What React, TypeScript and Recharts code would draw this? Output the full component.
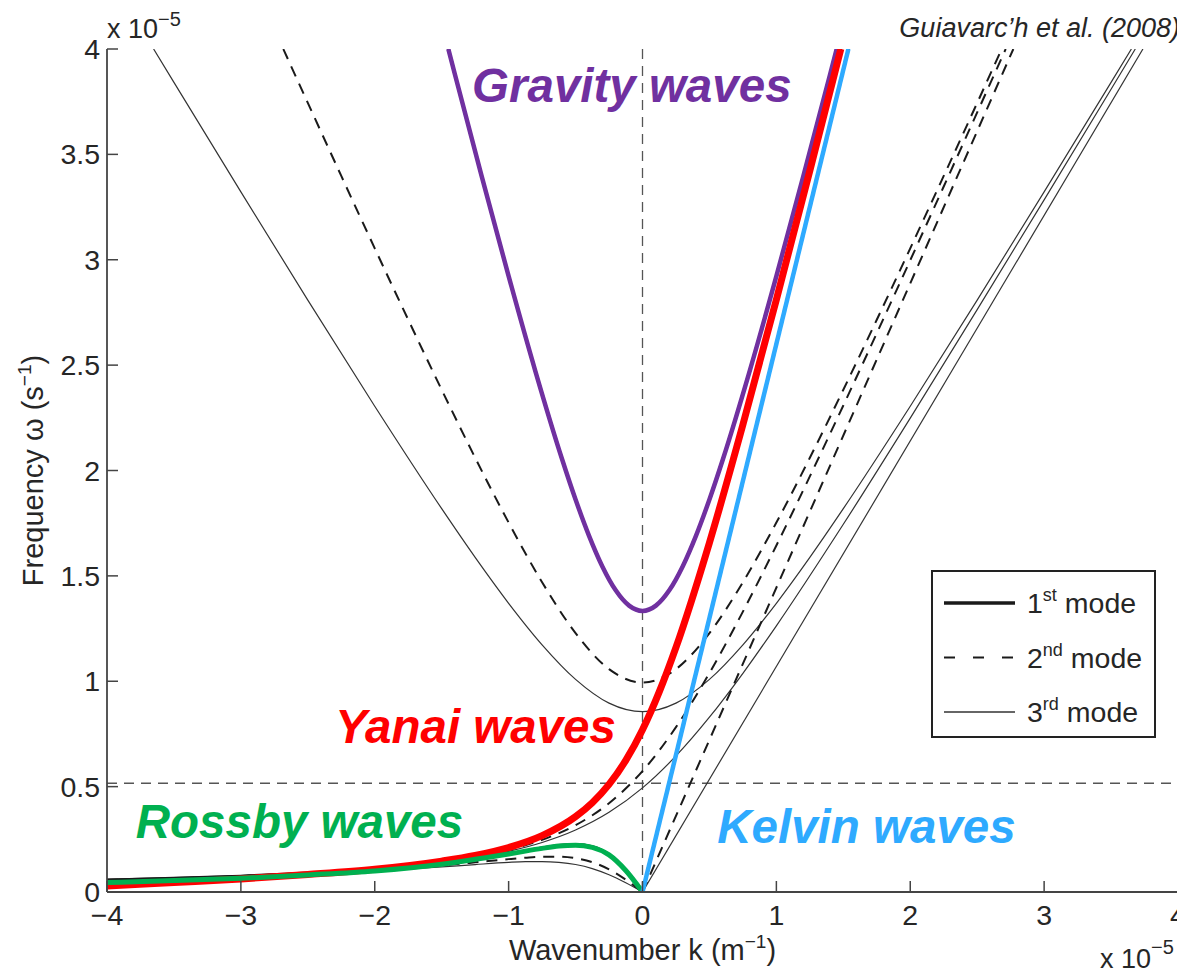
import React from 'react';
import { LineChart, Line, XAxis, YAxis, ReferenceLine, ReferenceDot, Legend } from 'recharts';

const FONT = '"Liberation Sans", Arial, Helvetica, sans-serif';
const INK = '#262626';

// ---- tick values ----
const xTicks = [-4, -3, -2, -1, 0, 1, 2, 3, 4];
const yTicks = [0, 0.5, 1, 1.5, 2, 2.5, 3, 3.5, 4];

// ---- reference lines ----
const refK = 0;
const refW = 0.516;

// ---- curves: [k (x1e-5 m^-1), omega (x1e-5 s^-1)] ----
// 1st mode
const kelvin1 = [[0, 0], [1.538, 4]];
const yanai1 = [[-4, 0.0567], [-3.5, 0.0647], [-3, 0.0753], [-2.5, 0.0899], [-2, 0.1116], [-1.5, 0.1465], [-1.25, 0.1732], [-1, 0.2109], [-0.75, 0.2673], [-0.5, 0.3576], [-0.375, 0.4238], [-0.25, 0.5107], [-0.125, 0.6244], [0, 0.7699], [0.125, 0.9494], [0.25, 1.1607], [0.5, 1.6576], [0.75, 2.2174], [1, 2.8109], [1.25, 3.4232], [1.4815, 4]];
const rossby1 = [[-4, 0.0561], [-3.5, 0.0638], [-3, 0.0738], [-2.5, 0.0875], [-2, 0.107], [-1.5, 0.1362], [-1.25, 0.1564], [-1, 0.1812], [-0.875, 0.195], [-0.75, 0.2088], [-0.625, 0.2204], [-0.5, 0.2255], [-0.375, 0.2155], [-0.25, 0.1776], [-0.125, 0.1028], [0, 0]];
const gravity1 = [[-1.4504, 4], [-1.4, 3.8766], [-1.2, 3.3931], [-1, 2.9221], [-0.8, 2.4708], [-0.6, 2.0523], [-0.5, 1.8624], [-0.4, 1.6912], [-0.3, 1.5449], [-0.2, 1.4314], [-0.1, 1.3587], [0, 1.3336], [0.1, 1.3587], [0.2, 1.4314], [0.3, 1.5449], [0.4, 1.6912], [0.5, 1.8624], [0.6, 2.0523], [0.8, 2.4708], [1, 2.9221], [1.2, 3.3931], [1.4, 3.8766], [1.4504, 4]];

// 2nd mode
const kelvin2 = [[0, 0], [2.77, 4]];
const yanai2 = [[-4, 0.0564], [-3.5, 0.0643], [-3, 0.0747], [-2.5, 0.089], [-2, 0.1098], [-1.5, 0.1426], [-1, 0.2002], [-0.75, 0.2475], [-0.5, 0.3169], [-0.25, 0.421], [0, 0.5738], [0.25, 0.782], [0.5, 1.0389], [0.75, 1.3305], [1, 1.6442], [1.25, 1.972], [1.5, 2.3086], [1.75, 2.6512], [2, 2.9978], [2.25, 3.3474], [2.5, 3.699], [2.713, 4]];
const rossby2 = [[-4, 0.0554], [-3.5, 0.0627], [-3, 0.0722], [-2.5, 0.0848], [-2, 0.102], [-1.5, 0.1259], [-1.25, 0.1406], [-1, 0.156], [-0.875, 0.1626], [-0.75, 0.1672], [-0.625, 0.1675], [-0.5, 0.1603], [-0.375, 0.1414], [-0.25, 0.1074], [-0.125, 0.0584], [0, 0]];
const gravity2 = [[-2.6832, 4], [-2.5, 3.7443], [-2.25, 3.3976], [-2, 3.0542], [-1.75, 2.7154], [-1.5, 2.3831], [-1.25, 2.0605], [-1, 1.753], [-0.75, 1.4699], [-0.5, 1.2284], [-0.25, 1.0574], [0, 0.9938], [0.25, 1.0574], [0.5, 1.2284], [0.75, 1.4699], [1, 1.753], [1.25, 2.0605], [1.5, 2.3831], [1.75, 2.7154], [2, 3.0542], [2.25, 3.3976], [2.5, 3.7443], [2.6832, 4]];

// 3rd mode
const kelvin3 = [[0, 0], [3.738, 4]];
const yanai3 = [[-4, 0.0563], [-3.5, 0.0641], [-3, 0.0743], [-2.5, 0.0883], [-2, 0.1085], [-1.5, 0.1398], [-1, 0.1931], [-0.75, 0.2351], [-0.5, 0.2942], [-0.25, 0.378], [0, 0.4939], [0.25, 0.6455], [0.5, 0.8292], [0.75, 1.0376], [1, 1.2631], [1.5, 1.7448], [2, 2.2485], [2.5, 2.7633], [3, 3.2843], [3.5, 3.8091], [3.681, 4]];
const rossby3 = [[-4, 0.0548], [-3.5, 0.0619], [-3, 0.071], [-2.5, 0.0827], [-2, 0.0985], [-1.5, 0.1189], [-1.25, 0.1303], [-1, 0.1406], [-0.875, 0.1439], [-0.75, 0.1445], [-0.625, 0.1407], [-0.5, 0.1304], [-0.375, 0.1112], [-0.25, 0.0819], [-0.125, 0.0436], [0, 0]];
const gravity3 = [[-3.6518, 4], [-3.5, 3.8415], [-3, 3.322], [-2.5, 2.8085], [-2, 2.3047], [-1.5, 1.8188], [-1.25, 1.5877], [-1, 1.37], [-0.75, 1.173], [-0.5, 1.009], [-0.25, 0.8963], [0, 0.8555], [0.25, 0.8963], [0.5, 1.009], [0.75, 1.173], [1, 1.37], [1.25, 1.5877], [1.5, 1.8188], [2, 2.3047], [2.5, 2.8085], [3, 3.322], [3.5, 3.8415], [3.6518, 4]];

// coloured highlight curves (1st mode)
const gravityHighlight = gravity1;
const yanaiHighlight = [[-4, 0.028], [-3.5, 0.045], [-3, 0.062], [-2.5, 0.083], [-2, 0.108], [-1.5, 0.1465], [-1.25, 0.1732], [-1, 0.2109], [-0.75, 0.2673], [-0.5, 0.3576], [-0.375, 0.4238], [-0.25, 0.5107], [-0.125, 0.6244], [0, 0.7699], [0.125, 0.9494], [0.25, 1.1607], [0.5, 1.6576], [0.75, 2.2174], [1, 2.8109], [1.25, 3.4232], [1.4815, 4]];
const rossbyHighlight = [[-4, 0.045], [-3.5, 0.054], [-3, 0.065], [-2.5, 0.081], [-2, 0.1], [-1.5, 0.132], [-1.25, 0.155], [-1, 0.18], [-0.875, 0.194], [-0.75, 0.207], [-0.625, 0.218], [-0.5, 0.222], [-0.375, 0.212], [-0.25, 0.176], [-0.125, 0.102], [0, 0]];
const kelvinHighlight = kelvin1;

// ---- annotations ----
const annotationTexts = ['Gravity waves', 'Yanai waves', 'Rossby waves', 'Kelvin waves'];
const annotationK = [-0.08, -1.247, -2.562, 1.673];
const annotationW = [3.75, 0.707, 0.256, 0.233];
const annotationColors = ['#7030A0', '#FF0000', '#00B050', '#2EAAFF'];

// ---- legend ----
const legendNums = ['1', '2', '3'];
const legendSups = ['st', 'nd', 'rd'];

const toPts = (arr: number[][]) => arr.map(([k, w]) => ({ k, w }));

const PLOT_H = 843;
const PLOT_W = 1071;
const CHART_W = 1177;
const CHART_H = 966;
const TOP = 41;
const Y_AXIS_W = 99;
const X_AXIS_H = CHART_H - TOP - PLOT_H;
const LABEL_FS = 29;
const TICK_FS = 28.5;

const modeStyle = [
  { stroke: '#1a1a1a', width: 3, dash: undefined as string | undefined },
  { stroke: '#1a1a1a', width: 2, dash: '11 8' },
  { stroke: '#333', width: 1.2, dash: undefined as string | undefined },
];

const XLabels = (props: any) => {
  const vb = props.viewBox || {};
  const cx = vb.x + vb.width / 2;
  return (
    <g fontFamily={FONT} fill={INK}>
      <text x={cx} y={vb.y + 68} textAnchor="middle" fontSize={LABEL_FS}>
        Wavenumber k (m<tspan dy={-12} fontSize={19}>−1</tspan>
        <tspan dy={12}>)</tspan>
      </text>
      <text x={vb.x + vb.width - 78} y={vb.y + 76} fontSize={27}>
        x 10<tspan dy={-14} fontSize={20}>−5</tspan>
      </text>
      <text x={vb.x + vb.width + 2} y={vb.y - PLOT_H - 12} textAnchor="end" fontSize={27} fontStyle="italic">
        Guiavarc’h et al. (2008)
      </text>
    </g>
  );
};

const YLabels = (props: any) => {
  const vb = props.viewBox || {};
  const cy = vb.y + vb.height / 2;
  return (
    <g fontFamily={FONT} fill={INK}>
      <text transform={`translate(${vb.x + 35}, ${cy}) rotate(-90)`} textAnchor="middle" fontSize={LABEL_FS}>
        Frequency ω (s<tspan dy={-12} fontSize={19}>−1</tspan>
        <tspan dy={12}>)</tspan>
      </text>
      <text x={vb.x + vb.width} y={vb.y - 11} fontSize={27}>
        x 10<tspan dy={-12} fontSize={20}>−5</tspan>
      </text>
    </g>
  );
};

const LegendBox = () => (
  <div
    style={{
      width: 225,
      height: 168,
      border: '2px solid #222',
      boxSizing: 'border-box',
      background: '#fff',
    }}
  >
    <svg width={221} height={164} style={{ display: 'block' }}>
      {legendNums.map((n, i) => {
        const y = 31 + i * 54.5;
        const st = modeStyle[i];
        return (
          <g key={n}>
            <line
              x1={11}
              x2={82}
              y1={y}
              y2={y}
              stroke={st.stroke}
              strokeWidth={i === 0 ? 3.5 : i === 1 ? 2.2 : 1.3}
              strokeDasharray={i === 1 ? '11 18' : undefined}
            />
            <text x={94} y={y + 10} fontFamily={FONT} fontSize={28.5} fill={INK}>
              {n}
              <tspan dy={-12} fontSize={18}>
                {legendSups[i]}
              </tspan>
              <tspan dy={12}> mode</tspan>
            </text>
          </g>
        );
      })}
    </svg>
  </div>
);

const fmtX = (v: number) => (v < 0 ? `−${-v}` : `${v}`);
const fmtY = (v: number) => `${v}`;
const blank = () => '';

const axisStroke = { stroke: '#444', strokeWidth: 1.8 };
const tickStroke = { stroke: '#444', strokeWidth: 1.5 };
const tickFont = { fontSize: TICK_FS, fill: INK, fontFamily: FONT };

const mkLine = (key: string, data: number[][], stroke: string, width: number, dash?: string) => (
  <Line
    key={key}
    data={toPts(data)}
    dataKey="w"
    type="monotone"
    stroke={stroke}
    strokeWidth={width}
    strokeDasharray={dash}
    strokeLinejoin="round"
    strokeLinecap="butt"
    dot={false}
    activeDot={false}
    isAnimationActive={false}
    legendType="none"
  />
);

export default function App() {
  return (
    <div style={{ width: CHART_W, height: CHART_H, background: '#fff' }}>
      <LineChart
        width={CHART_W}
        height={CHART_H}
        margin={{ top: TOP, right: CHART_W - Y_AXIS_W - PLOT_W, left: 0, bottom: 0 }}
      >
        <XAxis
          dataKey="k"
          type="number"
          domain={[-4, 4]}
          ticks={xTicks}
          interval={0}
          allowDataOverflow
          height={X_AXIS_H}
          tickSize={-11}
          tickMargin={24}
          tickFormatter={fmtX}
          tick={tickFont}
          axisLine={axisStroke}
          tickLine={tickStroke}
          label={XLabels}
        />
        <XAxis
          xAxisId="top"
          orientation="top"
          dataKey="k"
          type="number"
          domain={[-4, 4]}
          ticks={xTicks}
          interval={0}
          allowDataOverflow
          height={0}
          tickSize={-11}
          tickFormatter={blank}
          axisLine={axisStroke}
          tickLine={tickStroke}
        />
        <YAxis
          type="number"
          domain={[0, 4]}
          ticks={yTicks}
          interval={0}
          allowDataOverflow
          width={Y_AXIS_W}
          tickSize={-11}
          tickMargin={18}
          tickFormatter={fmtY}
          tick={tickFont}
          axisLine={axisStroke}
          tickLine={tickStroke}
          label={YLabels}
        />
        <YAxis
          yAxisId="right"
          orientation="right"
          type="number"
          domain={[0, 4]}
          ticks={yTicks}
          interval={0}
          allowDataOverflow
          width={0}
          tickSize={-11}
          tickFormatter={blank}
          axisLine={axisStroke}
          tickLine={tickStroke}
        />

        <ReferenceLine x={refK} stroke="#555" strokeWidth={1.3} strokeDasharray="10 7" />
        <ReferenceLine y={refW} stroke="#555" strokeWidth={1.3} strokeDasharray="10 7" />

        {/* 3rd mode */}
        {mkLine('g3', gravity3, modeStyle[2].stroke, modeStyle[2].width)}
        {mkLine('y3', yanai3, modeStyle[2].stroke, modeStyle[2].width)}
        {mkLine('r3', rossby3, modeStyle[2].stroke, modeStyle[2].width)}
        {mkLine('k3', kelvin3, modeStyle[2].stroke, modeStyle[2].width)}
        {/* 2nd mode */}
        {mkLine('g2', gravity2, modeStyle[1].stroke, modeStyle[1].width, modeStyle[1].dash)}
        {mkLine('y2', yanai2, modeStyle[1].stroke, modeStyle[1].width, modeStyle[1].dash)}
        {mkLine('r2', rossby2, modeStyle[1].stroke, modeStyle[1].width, modeStyle[1].dash)}
        {mkLine('k2', kelvin2, modeStyle[1].stroke, modeStyle[1].width, modeStyle[1].dash)}
        {/* 1st mode */}
        {mkLine('g1', gravity1, modeStyle[0].stroke, modeStyle[0].width)}
        {mkLine('y1', yanai1, modeStyle[0].stroke, modeStyle[0].width)}
        {mkLine('r1', rossby1, modeStyle[0].stroke, modeStyle[0].width)}
        {mkLine('k1', kelvin1, modeStyle[0].stroke, modeStyle[0].width)}
        {/* coloured highlights */}
        {mkLine('gh', gravityHighlight, annotationColors[0], 4.5)}
        {mkLine('yh', yanaiHighlight, annotationColors[1], 7)}
        {mkLine('rh', rossbyHighlight, annotationColors[2], 5)}
        {mkLine('kh', kelvinHighlight, annotationColors[3], 4.5)}

        {annotationTexts.map((t, i) => (
          <ReferenceDot
            key={t}
            x={annotationK[i]}
            y={annotationW[i]}
            ifOverflow="visible"
            shape={(p: any) => (
              <text
                x={p.cx}
                y={p.cy}
                textAnchor="middle"
                fontFamily={FONT}
                fontSize={47.5}
                fontWeight="bold"
                fontStyle="italic"
                fill={annotationColors[i]}
              >
                {t}
              </text>
            )}
          />
        ))}

        <Legend
          layout="vertical"
          align="center"
          verticalAlign="middle"
          content={LegendBox}
          wrapperStyle={{ left: 923, top: 562, width: 225, height: 168 }}
        />
      </LineChart>
    </div>
  );
}
